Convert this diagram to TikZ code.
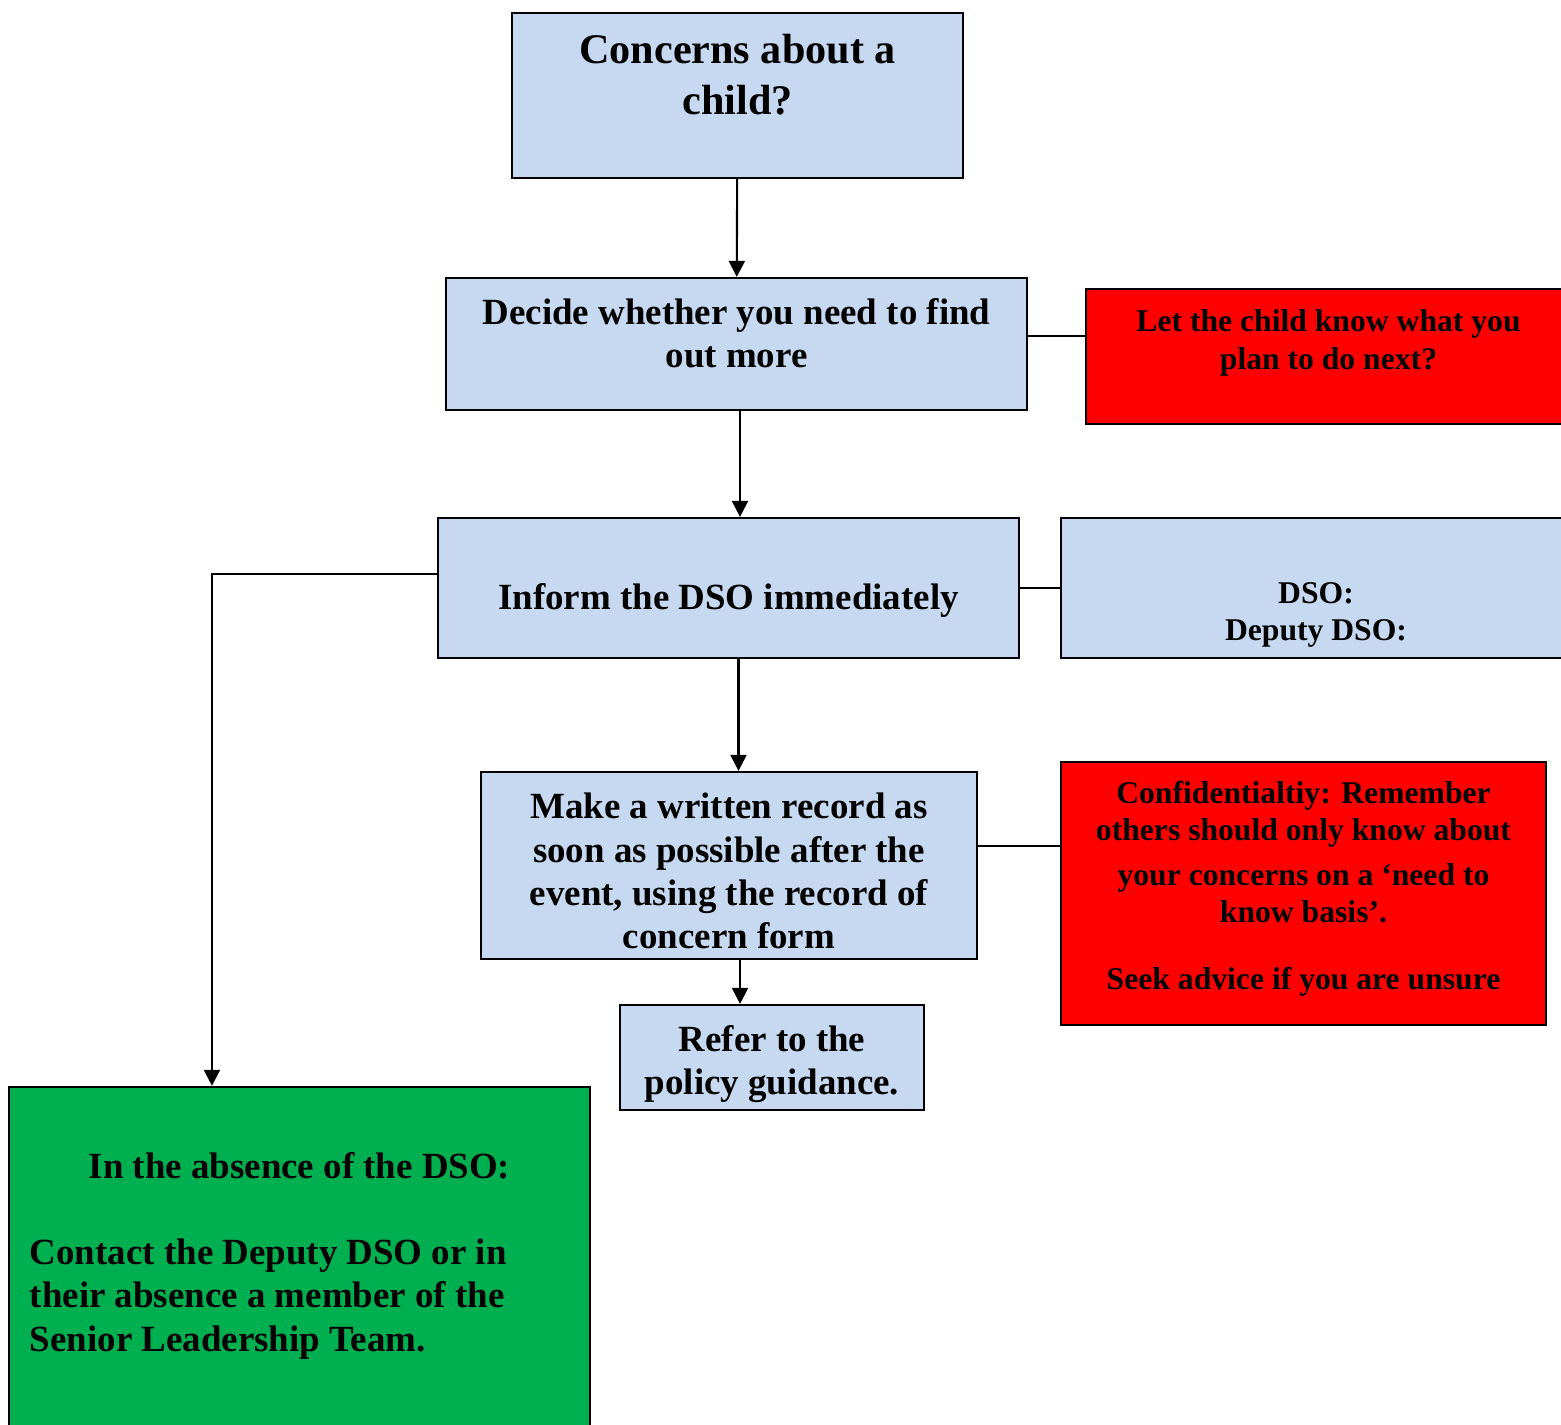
\documentclass[tikz,border=0pt]{standalone}
\usepackage{fontspec}
\setmainfont{Liberation Serif}
\usetikzlibrary{arrows.meta}
\definecolor{boxBlue}{RGB}{198,217,240}
\definecolor{alertRed}{RGB}{255,0,0}
\definecolor{absenceGreen}{RGB}{0,176,80}
\tikzstyle{flowBox} = [draw=black, line width=0.6pt, inner sep=0pt]
\tikzstyle{blueBox} = [flowBox, fill=boxBlue]
\tikzstyle{redBox} = [flowBox, fill=alertRed]
\tikzstyle{greenBox} = [flowBox, fill=absenceGreen]
\tikzstyle{flowLine} = [line width=0.6pt]
\tikzstyle{flowArrow} = [flowLine, -{Triangle[length=0.16cm, width=0.16cm]}]
\newcommand{\bigText}{\bfseries\fontsize{12}{14.5}\selectfont}
\newcommand{\mainText}{\bfseries\fontsize{10.5}{12.3}\selectfont}
\newcommand{\smallText}{\bfseries\fontsize{9}{10.6}\selectfont}
\newcommand{\liftText}[2]{\raisebox{#1}[\height][\depth]{\begin{tabular}{@{}c@{}}#2\end{tabular}}}
\begin{document}
\begin{tikzpicture}[x=0.01cm, y=-0.01cm]
  \useasboundingbox (0,0) rectangle (1561,1425);

  % main column
  \node[blueBox, minimum width=4.51cm, minimum height=1.65cm, font=\bigText] (concerns) at (737.5,95.5)
    {\liftText{0.165cm}{Concerns about a\\child?}};
  \node[blueBox, minimum width=5.81cm, minimum height=1.32cm, font=\mainText] (decide) at (736.5,344)
    {\liftText{0.065cm}{Decide whether you need to find\\out more}};
  \node[blueBox, minimum width=5.81cm, minimum height=1.40cm, font=\mainText] (inform) at (728.5,588)
    {\liftText{-0.125cm}{Inform the DSO immediately}};
  \node[blueBox, minimum width=4.96cm, minimum height=1.87cm, font=\mainText] (record) at (729,865.5)
    {\liftText{-0.095cm}{Make a written record as\\soon as possible after the\\event, using the record of\\concern form}};
  \node[blueBox, minimum width=3.04cm, minimum height=1.05cm, font=\mainText] (refer) at (772,1057.5)
    {\liftText{-0.07cm}{Refer to the\\policy guidance.}};

  % side boxes
  \node[redBox, minimum width=4.85cm, minimum height=1.35cm, font=\smallText] (letChild) at (1328.5,356.5)
    {\liftText{0.135cm}{Let the child know what you\\plan to do next?}};
  \node[blueBox, minimum width=5.10cm, minimum height=1.40cm, font=\smallText] (dsoNames) at (1316,588)
    {\liftText{-0.265cm}{DSO:\\Deputy DSO:}};
  \node[redBox, minimum width=4.85cm, minimum height=2.63cm, font=\smallText] (confidential) at (1303.5,893.5)
    {\liftText{0.045cm}{Confidentialtiy: Remember\\others should only know about\\[2pt]your concerns on a `need to\\know basis'.\\[8.5pt]Seek advice if you are unsure}};
  \node[greenBox, minimum width=5.81cm, minimum height=3.73cm, font=\mainText] (absence) at (299.5,1273.5)
    {\raisebox{0.175cm}[\height][\depth]{\begin{tabular}{@{}l@{}}\makebox[5.39cm]{In the absence of the DSO:}\\ \\Contact the Deputy DSO or in\\their absence a member of the\\Senior Leadership Team.\end{tabular}}};

  % connectors
  \draw[flowArrow] (concerns) -- (decide);
  \draw[flowArrow] ([xshift=0.035cm]decide.south) -- ([xshift=0.035cm]decide.south |- inform.north);
  \draw[flowArrow] ([xshift=0.1cm]inform.south) -- ([xshift=0.1cm]inform.south |- record.north);
  \draw[flowArrow] ([xshift=0.11cm]record.south) -- ([xshift=0.11cm]record.south |- refer.north);
  \draw[flowArrow] ([yshift=0.14cm]inform.west) -| ([xshift=-0.875cm]absence.north);
  \draw[flowLine] ([yshift=0.08cm]decide.east) -- ([yshift=0.08cm]decide.east -| letChild.west);
  \draw[flowLine] (inform) -- (dsoNames);
  \draw[flowLine] ([yshift=0.195cm]record.east) -- ([yshift=0.195cm]record.east -| confidential.west);
\end{tikzpicture}
\end{document}
